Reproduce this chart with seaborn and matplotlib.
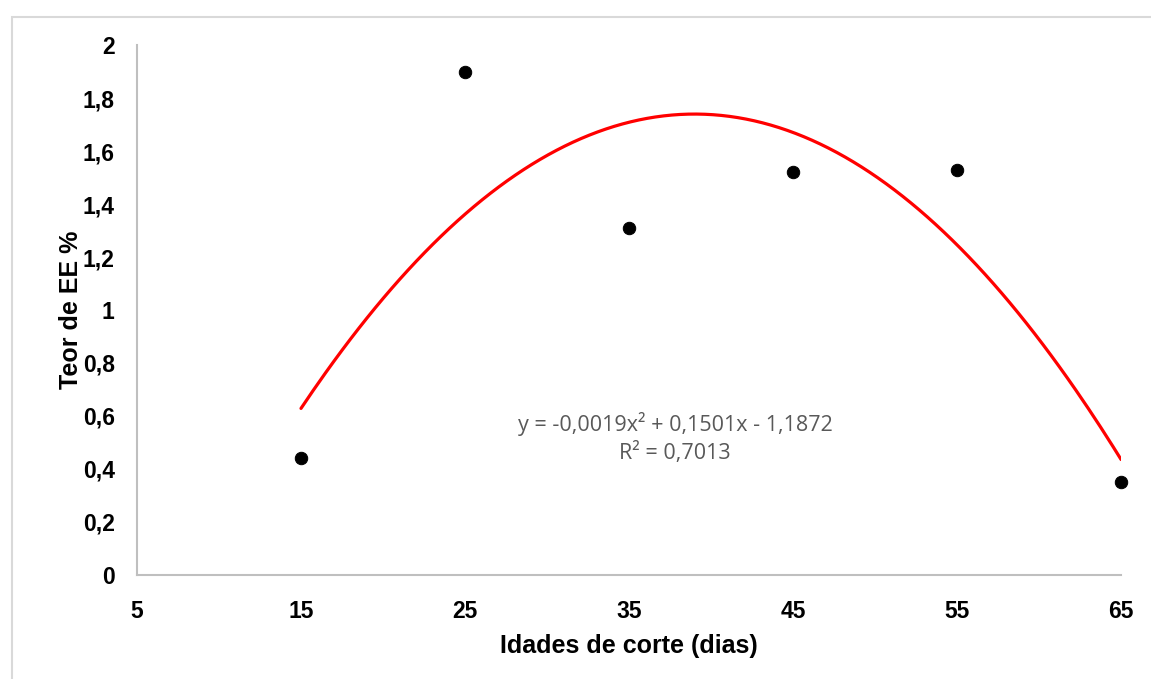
import numpy as np
import pandas as pd
import seaborn as sns
import matplotlib.pyplot as plt
from matplotlib.patches import Rectangle

# data
idades = [15, 25, 35, 45, 55, 65]
teor_ee = [0.44, 1.90, 1.31, 1.52, 1.53, 0.35]
y_ticks = [0, 0.2, 0.4, 0.6, 0.8, 1, 1.2, 1.4, 1.6, 1.8, 2]
x_ticks = [5, 15, 25, 35, 45, 55, 65]
equation = "y = -0,0019x² + 0,1501x - 1,1872"
r2_text = "R² = 0,7013"

df = pd.DataFrame({"Idade": idades, "Teor": teor_ee})

# second-order polynomial trend line (like Excel), fitted on the points
coef = np.polyfit(df["Idade"], df["Teor"], 2)
trend = pd.DataFrame({"Idade": np.linspace(min(idades), max(idades), 200)})
trend["Teor"] = np.polyval(coef, trend["Idade"])

sns.set_style("white")
plt.rcParams["font.family"] = ["Liberation Sans", "DejaVu Sans"]

fig = plt.figure(figsize=(11.51, 6.79), dpi=100)
ax = fig.add_axes([0.119, 0.1532, 0.855, 0.7805])

# light frame around the chart area
fig.patches.append(Rectangle((12 / 1151, -0.1), 1.2, 1 - 16.5 / 679 + 0.1,
                             transform=fig.transFigure, fill=False,
                             edgecolor="#d9d9d9", linewidth=1.5))

sns.lineplot(data=trend, x="Idade", y="Teor", color="#ff0000", linewidth=2.3, ax=ax)
sns.scatterplot(data=df, x="Idade", y="Teor", color="black", s=80,
                edgecolor="black", zorder=3, clip_on=False, ax=ax)

ax.set_xlim(5, 65)
ax.set_ylim(0, 2)
ax.set_xticks(x_ticks)
ax.set_yticks(y_ticks)
ax.set_xticklabels([str(v) for v in x_ticks])
ax.set_yticklabels([f"{v:g}".replace(".", ",") for v in y_ticks])
ax.tick_params(length=0, labelsize=16.5, colors="black")
ax.tick_params(axis="x", pad=18)
ax.tick_params(axis="y", pad=16)
for lab in ax.get_xticklabels() + ax.get_yticklabels():
    lab.set_fontweight("bold")

ax.set_xlabel("Idades de corte (dias)", fontsize=18, fontweight="bold",
              color="black", labelpad=8)
ax.set_ylabel("Teor de EE %", fontsize=18, fontweight="bold",
              color="black", labelpad=0)

for side in ["top", "right"]:
    ax.spines[side].set_visible(False)
for side in ["left", "bottom"]:
    ax.spines[side].set_color("#bfbfbf")
    ax.spines[side].set_linewidth(1.5)

ax.text(37.8, 0.57, equation, ha="center", va="center", fontsize=15.5,
        color="#595959", family=["Open Sans", "DejaVu Sans"])
ax.text(37.8, 0.46, r2_text, ha="center", va="center", fontsize=15.5,
        color="#595959", family=["Open Sans", "DejaVu Sans"])

fig.savefig("out.png", dpi=100)
